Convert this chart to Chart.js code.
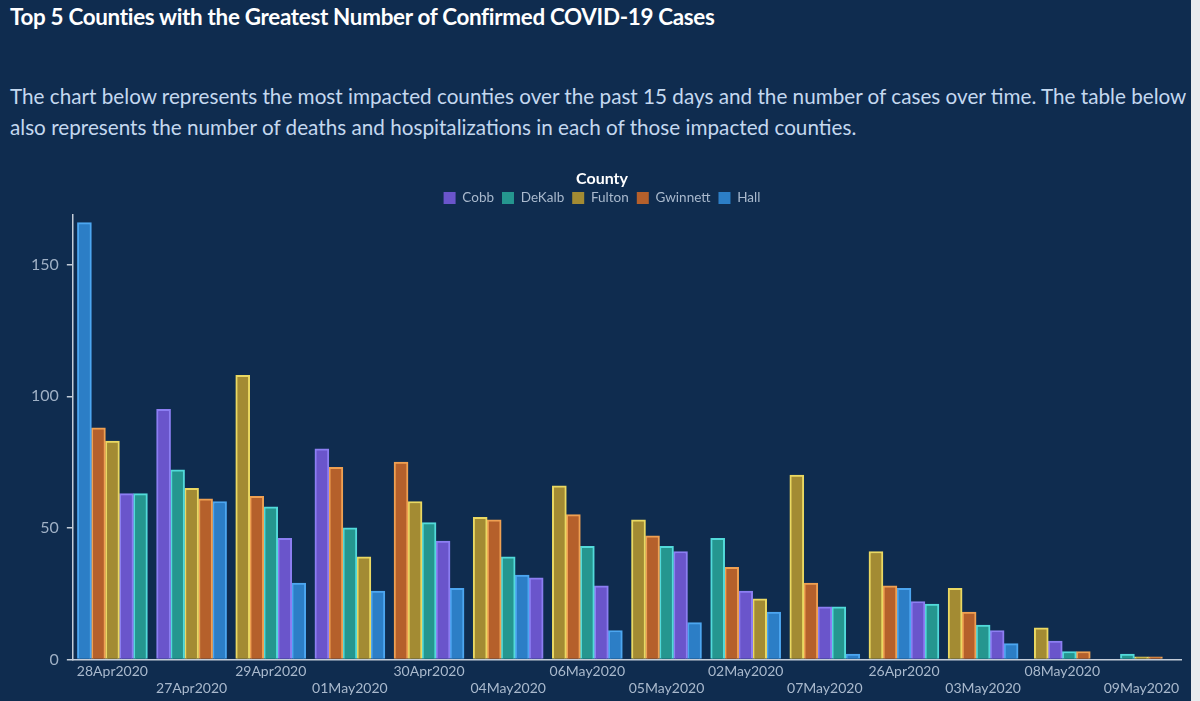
<!DOCTYPE html>
<html>
<head>
<meta charset="utf-8">
<script src="https://cdn.jsdelivr.net/npm/chart.js@4"></script>
<style>
    body { margin: 0; background: #e9ebee; }
    #panel { position: relative; width: 1191px; height: 701px; background: #0f2c4f; overflow: hidden; font-family: Lato, sans-serif; }
    h1 { position: absolute; left: 10px; top: 3px; margin: 0; font-size: 22.4px; font-weight: 700; color: #ffffff; letter-spacing: -0.3px; }
    p { position: absolute; left: 10px; top: 81px; margin: 0; font-size: 20.7px; line-height: 31px; color: #c4d8ef; white-space: nowrap; }
    #wrap { position: absolute; left: 0; top: 160px; width: 1191px; height: 541px; }
</style>
</head>
<body>
<div id="panel">
    <h1>Top 5 Counties with the Greatest Number of Confirmed COVID-19 Cases</h1>
    <p>The chart below represents the most impacted counties over the past 15 days and the number of cases over time. The table below<br>also represents the number of deaths and hospitalizations in each of those impacted counties.</p>
    <div id="wrap"><canvas id="casesChart"></canvas></div>
</div>
<script>
// Dates, in the order the chart shows them
const dates = ['28Apr2020', '27Apr2020', '29Apr2020', '01May2020', '30Apr2020', '04May2020', '06May2020',
               '05May2020', '02May2020', '07May2020', '26Apr2020', '03May2020', '08May2020', '09May2020'];

const counties = ['Cobb', 'DeKalb', 'Fulton', 'Gwinnett', 'Hall'];

// Cases per county per date (null = no bar)
const cobb     = [63, 95, 46, 80, 45, 31, 28, 41, 26, 20, 22, 11, 7, null];
const dekalb   = [63, 72, 58, 50, 52, 39, 43, 43, 46, 20, 21, 13, 3, 2];
const fulton   = [83, 65, 108, 39, 60, 54, 66, 53, 23, 70, 41, 27, 12, 1];
const gwinnett = [88, 61, 62, 73, 75, 53, 55, 47, 35, 29, 28, 18, 3, 1];
const hall     = [166, 60, 29, 26, 27, 32, 11, 14, 18, 2, 27, 6, null, null];

const yTicks = [0, 50, 100, 150];

const fills   = ['#6a55cb', '#25968f', '#a38b33', '#b5602b', '#2c7ec6'];
const borders = ['#8c7ef2', '#52dada', '#ead862', '#efa052', '#4ca6f0'];

const series = [cobb, dekalb, fulton, gwinnett, hall];

// Bars in each date group are drawn largest first, so build one dataset per rank
const rankSets = counties.map(() => ({ data: [], backgroundColor: [], borderColor: [] }));
dates.forEach((d, i) => {
    const order = counties
        .map((c, k) => k)
        .filter(k => series[k][i] !== null)
        .sort((a, b) => series[b][i] - series[a][i]);
    rankSets.forEach((ds, r) => {
        const k = order[r];
        ds.data.push(k === undefined ? null : series[k][i]);
        ds.backgroundColor.push(k === undefined ? 'transparent' : fills[k]);
        ds.borderColor.push(k === undefined ? 'transparent' : borders[k]);
    });
});

const ctx = document.getElementById('casesChart').getContext('2d');

new Chart(ctx, {
    type: 'bar',
    data: {
        labels: dates,
        datasets: rankSets.map((ds, r) => ({
            label: 'rank ' + (r + 1),
            data: ds.data,
            backgroundColor: ds.backgroundColor,
            borderColor: ds.borderColor,
            borderWidth: 2,
            borderSkipped: 'bottom',
            barThickness: 14,
            skipNull: true
        }))
    },
    options: {
        responsive: true,
        maintainAspectRatio: false,
        animation: false,
        layout: { padding: { left: 23, right: 10, top: 11, bottom: 0 } },
        plugins: {
            tooltip: { enabled: false },
            legend: {
                position: 'top',
                onClick: null,
                title: {
                    display: true,
                    text: 'County',
                    color: '#ffffff',
                    padding: { top: 0, bottom: -7 },
                    font: { family: 'Lato', size: 16, weight: 'bold' }
                },
                labels: {
                    color: '#a9b9cd',
                    boxWidth: 12,
                    boxHeight: 12,
                    padding: 8,
                    font: { family: 'Lato', size: 13.5 },
                    generateLabels: () => counties.map((c, k) => ({
                        text: c,
                        fillStyle: fills[k],
                        strokeStyle: fills[k],
                        lineWidth: 0,
                        fontColor: '#a9b9cd',
                        hidden: false,
                        datasetIndex: k
                    }))
                }
            }
        },
        scales: {
            x: {
                grid: { display: false, drawTicks: false },
                border: { display: true, color: '#c3ccd8', width: 1.5 },
                ticks: {
                    color: '#a9b9cd',
                    autoSkip: false,
                    maxRotation: 0,
                    padding: 4,
                    font: { family: 'Lato', size: 14 },
                    callback: (v, i) => i % 2 ? ['', dates[i]] : dates[i]
                }
            },
            y: {
                min: 0,
                max: 169,
                afterBuildTicks: axis => {
                    axis.ticks = yTicks.map(v => ({ value: v }));
                },
                grid: { drawOnChartArea: false, color: '#c3ccd8', tickLength: 6, lineWidth: 1.5 },
                border: { display: true, color: '#c3ccd8', width: 1.5 },
                ticks: {
                    color: '#9fb0c5',
                    padding: 8,
                    font: { family: 'Lato', size: 16 }
                }
            }
        }
    }
});
</script>
</body>
</html>
